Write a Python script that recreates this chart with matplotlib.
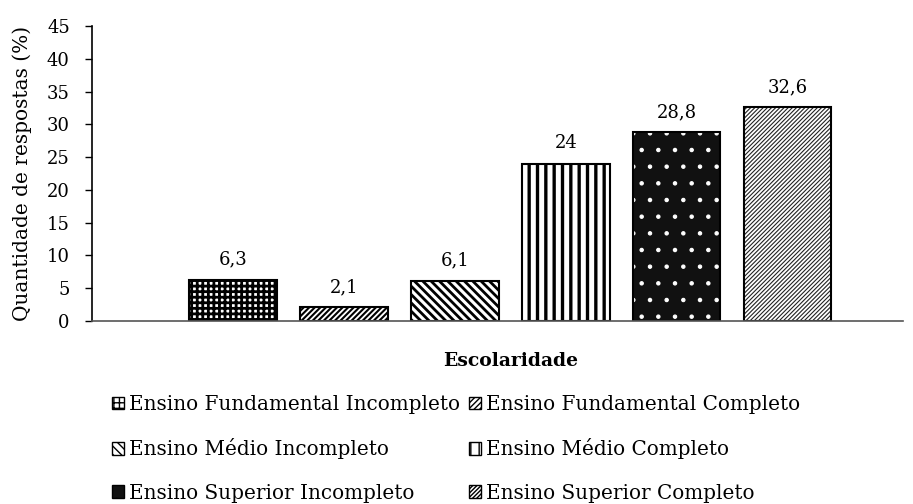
import matplotlib
matplotlib.use("Agg")
import matplotlib.pyplot as plt
from matplotlib.patches import Patch

plt.rcParams['font.family'] = ['DejaVu Serif']

series = ["Ensino Fundamental Incompleto", "Ensino Fundamental Completo",
          "Ensino Médio Incompleto", "Ensino Médio Completo",
          "Ensino Superior Incompleto", "Ensino Superior Completo"]
values = [6.3, 2.1, 6.1, 24, 28.8, 32.6]
value_labels = ["6,3", "2,1", "6,1", "24", "28,8", "32,6"]
yticks = [0, 5, 10, 15, 20, 25, 30, 35, 40, 45]

hatches = ["+++", "//////", "\\\\\\\\", "||", ".", "////////"]
faces = ["white", "white", "white", "white", "#111111", "white"]
hatch_cols = ["black", "black", "black", "black", "white", "#222222"]
hatch_lw = [2.0, 1.5, 2.0, 2.4, 0.8, 0.8]

fig = plt.figure(figsize=(9.13, 5.04), dpi=100)
ax = fig.add_axes([92/913, 1 - 321/504, (903-92)/913, 295/504])

xs = list(range(len(values)))
for x, v, h, fc, hc, lw in zip(xs, values, hatches, faces, hatch_cols, hatch_lw):
    with plt.rc_context({'hatch.linewidth': lw}):
        bars = ax.bar(x, v, width=0.79, facecolor=fc, edgecolor=hc, hatch=h, linewidth=0)
        for p in bars:
            if hasattr(p, "set_hatch_linewidth"):
                p.set_hatch_linewidth(lw)
    ax.bar(x, v, width=0.79, facecolor="none", edgecolor="black", linewidth=1.5)

for x, v, lab in zip(xs, values, value_labels):
    ax.annotate(lab, (x, v), xytext=(0, 11), textcoords="offset points",
                ha="center", va="baseline", fontsize=13)

ax.set_xlim(-1.27, 6.04)
ax.set_ylim(0, 45)
ax.set_yticks(yticks)
ax.set_yticklabels([str(t) for t in yticks], fontsize=13)
ax.set_xticks([])
ax.spines['top'].set_visible(False)
ax.spines['right'].set_visible(False)
ax.spines['left'].set_linewidth(1.2)
ax.spines['bottom'].set_color("#555555")
ax.spines['bottom'].set_linewidth(1.2)
ax.tick_params(axis='y', direction='out', length=5, width=1.0, pad=11)
ax.set_ylabel("Quantidade de respostas (%)", fontsize=14.5)
ax.yaxis.set_label_coords(-60/811, 0.5)
ax.set_xlabel("Escolaridade", fontsize=13.5, fontweight="bold")
ax.xaxis.set_label_coords((2.5 + 1.27) / (6.04 + 1.27), -31/295)

handles = []
for h, fc, hc, lw in zip(hatches, faces, hatch_cols, hatch_lw):
    with plt.rc_context({'hatch.linewidth': min(lw, 1.4)}):
        p = Patch(facecolor=fc, edgecolor="black", hatch=h, linewidth=1.0)
    handles.append(p)

# legend fills column-wise, so interleave to read row by row
order = [0, 2, 4, 1, 3, 5]
fig.legend([handles[i] for i in order], [series[i] for i in order], ncol=2,
           loc="upper left", bbox_to_anchor=(112/913, 1 - 395/504), frameon=False,
           borderpad=0, borderaxespad=0,
           fontsize=14.4, handlelength=0.6, handleheight=0.6,
           handletextpad=0.25, labelspacing=1.22, columnspacing=0.45)

fig.savefig("out.png", dpi=100)
